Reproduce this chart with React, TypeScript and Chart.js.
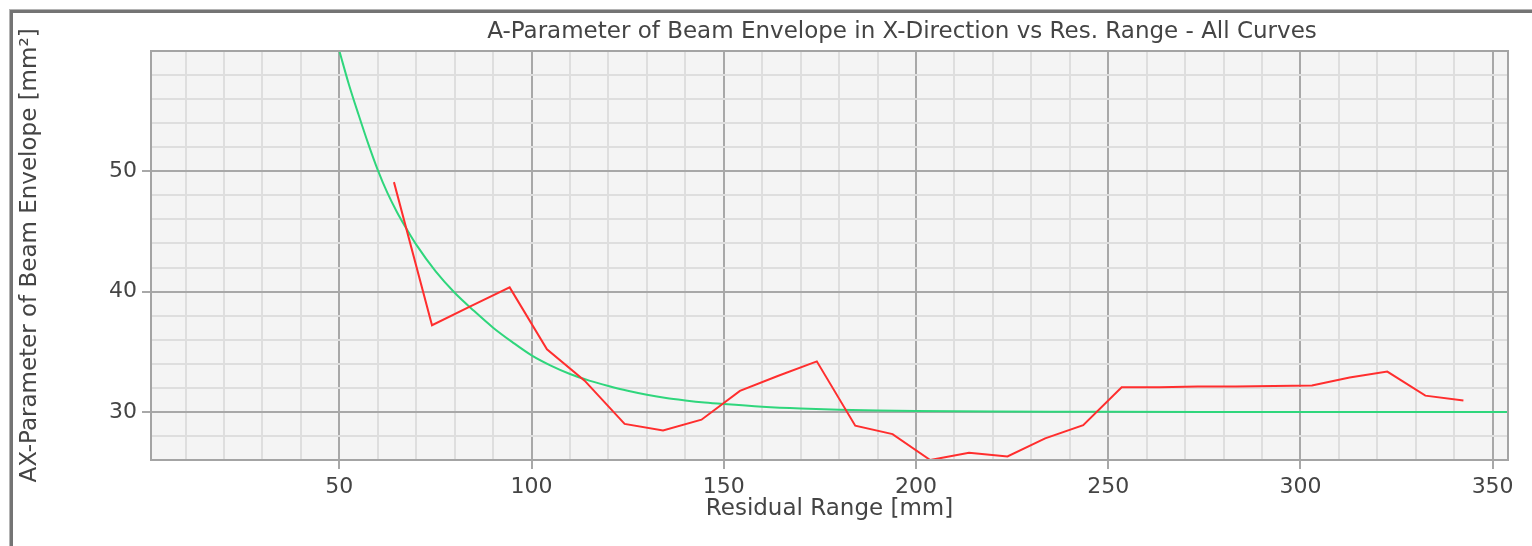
import React, { useEffect, useRef } from 'react';
import { Chart, registerables } from 'chart.js';

Chart.register(...registerables);

const chartTitle = 'A-Parameter of Beam Envelope in X-Direction vs Res. Range - All Curves';
const xAxisTitle = 'Residual Range [mm]';
const yAxisTitle = 'AX-Parameter of Beam Envelope [mm²]';

// measured curve (red)
const measuredX = [64.2, 74.1, 84.2, 94.3, 104.0, 113.8, 124.2, 134.2, 144.2, 154.2, 164.2, 174.2, 184.2, 193.9, 203.7, 213.8, 223.8, 233.6, 243.5, 253.5, 263.4, 273.3, 283.2, 293.1, 303.0, 312.8, 322.6, 332.5, 342.4];
const measuredY = [49.1, 37.2, 38.8, 40.35, 35.2, 32.6, 29.0, 28.45, 29.35, 31.75, 33.0, 34.2, 28.85, 28.15, 26.0, 26.6, 26.3, 27.8, 28.9, 32.05, 32.05, 32.1, 32.1, 32.15, 32.2, 32.85, 33.35, 31.35, 30.95];

// fitted curve (green)
const fitX = [50, 52.5, 55, 57.5, 60, 62.5, 65, 67.5, 70, 75, 80, 85, 90, 95, 100, 105, 110, 115, 120, 125, 130, 135, 140, 145, 150, 160, 170, 180, 190, 200, 210, 220, 235, 250, 275, 354];
const fitY = [60.0, 57.2, 54.7, 52.3, 50.1, 48.2, 46.6, 45.2, 43.9, 41.7, 39.9, 38.4, 37.0, 35.8, 34.7, 33.85, 33.15, 32.6, 32.15, 31.75, 31.42, 31.15, 30.95, 30.78, 30.65, 30.43, 30.28, 30.18, 30.11, 30.07, 30.045, 30.03, 30.015, 30.01, 30.0, 30.0];

const xTickLabels = [50, 100, 150, 200, 250, 300, 350];
const yTickLabels = [30, 40, 50];

const FONT = '"DejaVu Sans", Verdana, sans-serif';
const TEXT = '#444444';
const MAJOR = '#a8a8a8';
const MINOR = '#dedede';

const decor = {
  id: 'decor',
  beforeDraw(chart: any) {
    const { ctx, chartArea: a } = chart;
    ctx.save();
    ctx.fillStyle = '#f4f4f4';
    ctx.fillRect(a.left, a.top, a.right - a.left, a.bottom - a.top);
    ctx.restore();
  },
  afterDraw(chart: any) {
    const { ctx, chartArea: a } = chart;
    ctx.save();
    ctx.strokeStyle = '#a4a4a4';
    ctx.lineWidth = 2;
    ctx.strokeRect(a.left, a.top, a.right - a.left, a.bottom - a.top);
    ctx.fillStyle = TEXT;
    ctx.font = '23px ' + FONT;
    ctx.textAlign = 'center';
    ctx.textBaseline = 'alphabetic';
    ctx.fillText(chartTitle, 902, 37.5);
    ctx.restore();
  },
};

export default function App() {
  const ref = useRef<HTMLCanvasElement | null>(null);

  useEffect(() => {
    if (!ref.current) return;
    const chart = new Chart(ref.current, {
      type: 'line',
      data: {
        datasets: [
          {
            label: 'Measured',
            data: measuredX.map((x, i) => ({ x, y: measuredY[i] })),
            borderColor: '#ff2e2e',
            borderWidth: 2,
            pointRadius: 0,
            tension: 0,
            fill: false,
          },
          {
            label: 'Fit',
            data: fitX.map((x, i) => ({ x, y: fitY[i] })),
            borderColor: '#2fd67c',
            borderWidth: 2,
            pointRadius: 0,
            cubicInterpolationMode: 'monotone',
            fill: false,
          },
        ],
      },
      options: {
        animation: false,
        responsive: false,
        maintainAspectRatio: false,
        layout: { padding: { left: 0, right: 24, top: 51, bottom: 0 } },
        plugins: {
          legend: { display: false },
          tooltip: { enabled: false },
          title: { display: false },
        },
        scales: {
          x: {
            type: 'linear',
            min: 1,
            max: 354,
            afterFit: (s: any) => {
              s.height = 86;
            },
            border: { display: false },
            grid: {
              lineWidth: 2,
              color: (c: any) => (c.tick && c.tick.value % 50 === 0 ? MAJOR : MINOR),
              tickLength: 9,
              tickWidth: 2,
              tickColor: (c: any) => (c.tick && c.tick.value % 50 === 0 ? MAJOR : 'rgba(0,0,0,0)'),
            },
            ticks: {
              stepSize: 10,
              includeBounds: false,
              autoSkip: false,
              maxRotation: 0,
              padding: 5,
              color: TEXT,
              font: { family: FONT, size: 22 },
              callback: (v: any) => (xTickLabels.includes(Number(v)) ? String(v) : ''),
            },
            title: {
              display: true,
              text: xAxisTitle,
              color: TEXT,
              font: { family: FONT, size: 23 },
              padding: { top: 0, bottom: 23 },
            },
          },
          y: {
            type: 'linear',
            min: 26,
            max: 60,
            afterFit: (s: any) => {
              s.width = 151;
            },
            border: { display: false },
            grid: {
              lineWidth: 2,
              color: (c: any) => (c.tick && c.tick.value % 10 === 0 && c.tick.value !== 60 ? MAJOR : MINOR),
              tickLength: 9,
              tickWidth: 2,
              tickColor: (c: any) => (c.tick && yTickLabels.includes(c.tick.value) ? MAJOR : 'rgba(0,0,0,0)'),
            },
            ticks: {
              stepSize: 2,
              autoSkip: false,
              padding: 5,
              color: TEXT,
              font: { family: FONT, size: 22 },
              callback: (v: any) => (yTickLabels.includes(Number(v)) ? String(v) : ''),
            },
            title: {
              display: true,
              text: yAxisTitle,
              color: TEXT,
              font: { family: FONT, size: 23 },
              padding: { top: 16, bottom: 0 },
            },
          },
        },
      },
      plugins: [decor],
    } as any);
    return () => chart.destroy();
  }, []);

  return (
    <div style={{ position: 'fixed', left: 0, top: 0, width: 1532, height: 546, background: '#fff', overflow: 'hidden' }}>
      <div
        style={{
          position: 'absolute',
          left: 9,
          top: 9,
          width: 1600,
          height: 600,
          borderTop: '1px solid #b4b4b4',
          borderLeft: '1px solid #b4b4b4',
        }}
      >
        <div
          style={{
            position: 'absolute',
            left: 0,
            top: 0,
            width: 1600,
            height: 600,
            borderTop: '3px solid #747474',
            borderLeft: '3px solid #747474',
          }}
        />
      </div>
      <canvas ref={ref} width={1532} height={546} style={{ position: 'absolute', left: 0, top: 0, width: 1532, height: 546 }} />
    </div>
  );
}
